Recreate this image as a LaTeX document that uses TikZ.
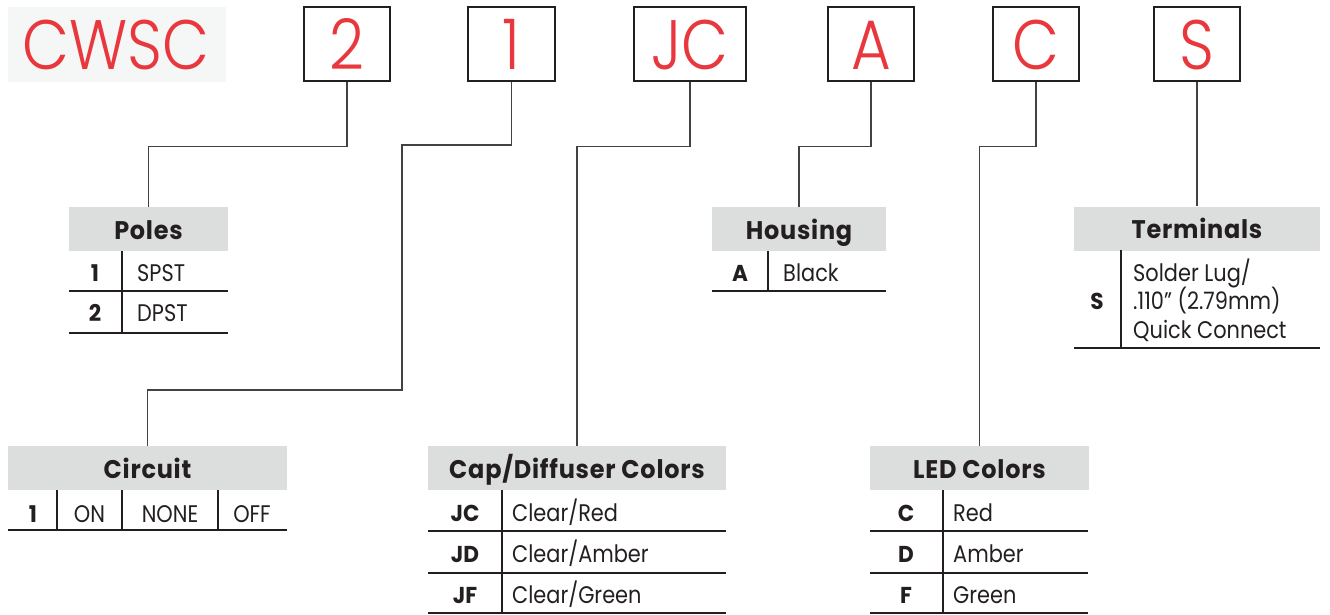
\documentclass[tikz,border=0pt]{standalone}
\usepackage{fontspec}
\IfFontExistsTF{Poppins Light}{\newfontfamily\redf[FakeStretch=0.87]{Poppins Light}}{\newfontfamily\redf[FakeStretch=0.87]{Poppins}}
\IfFontExistsTF{Poppins Bold}{\newfontfamily\hdrf[FakeStretch=0.94]{Poppins Bold}}{\newfontfamily\hdrf[FakeStretch=0.94,FakeBold=2]{Poppins}}
\IfFontExistsTF{Poppins Bold}{\newfontfamily\hdrwide[FakeStretch=0.94,LetterSpace=3]{Poppins Bold}}{\newfontfamily\hdrwide[FakeStretch=0.94,FakeBold=2,LetterSpace=3]{Poppins}}
\newfontfamily\bodyf[FakeStretch=0.87]{Poppins}
\definecolor{cwred}{HTML}{E8383D}
\definecolor{hdrgray}{HTML}{DCDDDD}
\definecolor{ink}{HTML}{231F20}
\definecolor{logobg}{HTML}{F5F7F7}
\tikzset{
  codebox/.style={draw=ink, line width=2.6pt, minimum height=74pt, inner sep=0pt,
    text height=50pt, text depth=0pt, text=cwred, font=\redf\fontsize{70}{70}\selectfont},
  hdr/.style={fill=hdrgray, minimum height=44pt, inner sep=0pt, text height=20pt, text depth=0pt,
    text=ink, font=\hdrwide\fontsize{25.5}{25.5}\selectfont},
  conn/.style={draw=ink!85, line width=1.4pt},
  rule/.style={draw=ink, line width=1.3pt},
  code/.style={anchor=base, text=ink, inner sep=0pt, font=\hdrf\fontsize{23}{23}\selectfont},
  val/.style={anchor=base west, text=ink, inner sep=0pt, font=\bodyf\fontsize{24}{24}\selectfont},
}
\begin{document}
\begin{tikzpicture}[x=1pt,y=-1pt]
\useasboundingbox (0,0) rectangle (1330,614);
% logo
\fill[logobg] (8,7) rectangle (226,82);
\node[anchor=base, text=cwred, inner sep=0pt, font=\redf\fontsize{70}{70}\selectfont] (logo) at (116,69) {CWSC};
% code boxes
\node[codebox, minimum width=86pt] (b2) at (347,44) {2};
\node[codebox, minimum width=87pt] (b1) at (511.5,44) {1};
\node[codebox, minimum width=112pt] (bJC) at (690,44) {JC};
\node[codebox, minimum width=86pt] (bA) at (871,44) {A};
\node[codebox, minimum width=86pt] (bC) at (1036,44) {C};
\node[codebox, minimum width=86pt] (bS) at (1197,44) {S};
% headers
\node[hdr, minimum width=159pt] (poles) at (148.5,229) {Poles};
\node[hdr, minimum width=174pt] (housing) at (799,229) {Housing};
\node[hdr, minimum width=246pt] (term) at (1197,228.5) {Terminals};
\node[hdr, minimum width=279pt] (circuit) at (147.5,468) {Circuit};
\node[hdr, minimum width=298pt] (cap) at (577,468) {Cap/Diffuser Colors};
\node[hdr, minimum width=219pt] (led) at (979.5,468) {LED Colors};
% connectors
\coordinate (k1) at (402,145);
\coordinate (k2) at (402,390);
\draw[conn] (b2.south) -- ++(0,64) -| (poles.north);
\draw[conn] (b1.south) |- (k1) -- (k2) -| (circuit.north);
\draw[conn] (bJC.south) -- ++(0,64) -| (cap.north);
\draw[conn] (bA.south) -- ++(0,64) -| (housing.north);
\draw[conn] (bC.south) -- ++(0,64) -| (led.north);
\draw[conn] (bS.south) -- (term.north);
% Poles table
\draw[rule] (122,251) -- (122,333);
\draw[rule] (69,291) -- (228,291);
\draw[rule] (69,333) -- (228,333);
\node[code] (p1) at (95,281) {1};
\node[val] (p1v) at (137,281) {SPST};
\node[code] (p2) at (95,321) {2};
\node[val] (p2v) at (137,321) {DPST};
% Housing table
\draw[rule] (768,251) -- (768,291);
\draw[rule] (712,291) -- (886,291);
\node[code] (h1) at (740,281) {A};
\node[val] (h1v) at (783,281) {Black};
% Terminals table
\draw[rule] (1121,250) -- (1121,348);
\draw[rule] (1074,348) -- (1320,348);
\node[code] (t1) at (1097,309) {S};
\node[val] (t1a) at (1133,281) {Solder Lug/};
\node[val] (t1b) at (1133,309.5) {.110” (2.79mm)};
\node[val] (t1c) at (1133,338) {Quick Connect};
% Circuit table
\draw[rule] (57,490) -- (57,530);
\draw[rule] (122,490) -- (122,530);
\draw[rule] (218,490) -- (218,530);
\draw[rule] (8,530) -- (287,530);
\node[code] (c1) at (33,522) {1};
\node[val, anchor=base] (c2) at (89.5,522) {ON};
\node[val, anchor=base] (c3) at (170,522) {NONE};
\node[val, anchor=base] (c4) at (252,522) {OFF};
% Cap table
\draw[rule] (502,490) -- (502,613);
\draw[rule] (428,531) -- (726,531);
\draw[rule] (428,573) -- (726,573);
\draw[rule] (428,613) -- (726,613);
\node[code] (j1) at (465,521) {JC};
\node[val] (j1v) at (512,521) {Clear/Red};
\node[code] (j2) at (465,562) {JD};
\node[val] (j2v) at (512,562) {Clear/Amber};
\node[code] (j3) at (465,603) {JF};
\node[val] (j3v) at (512,603) {Clear/Green};
% LED table
\draw[rule] (943,490) -- (943,613);
\draw[rule] (870,531) -- (1088,531);
\draw[rule] (870,573) -- (1088,573);
\draw[rule] (870,613) -- (1088,613);
\node[code] (l1) at (906,521) {C};
\node[val] (l1v) at (953,521) {Red};
\node[code] (l2) at (906,562) {D};
\node[val] (l2v) at (953,562) {Amber};
\node[code] (l3) at (906,603) {F};
\node[val] (l3v) at (953,603) {Green};
\end{tikzpicture}
\end{document}
